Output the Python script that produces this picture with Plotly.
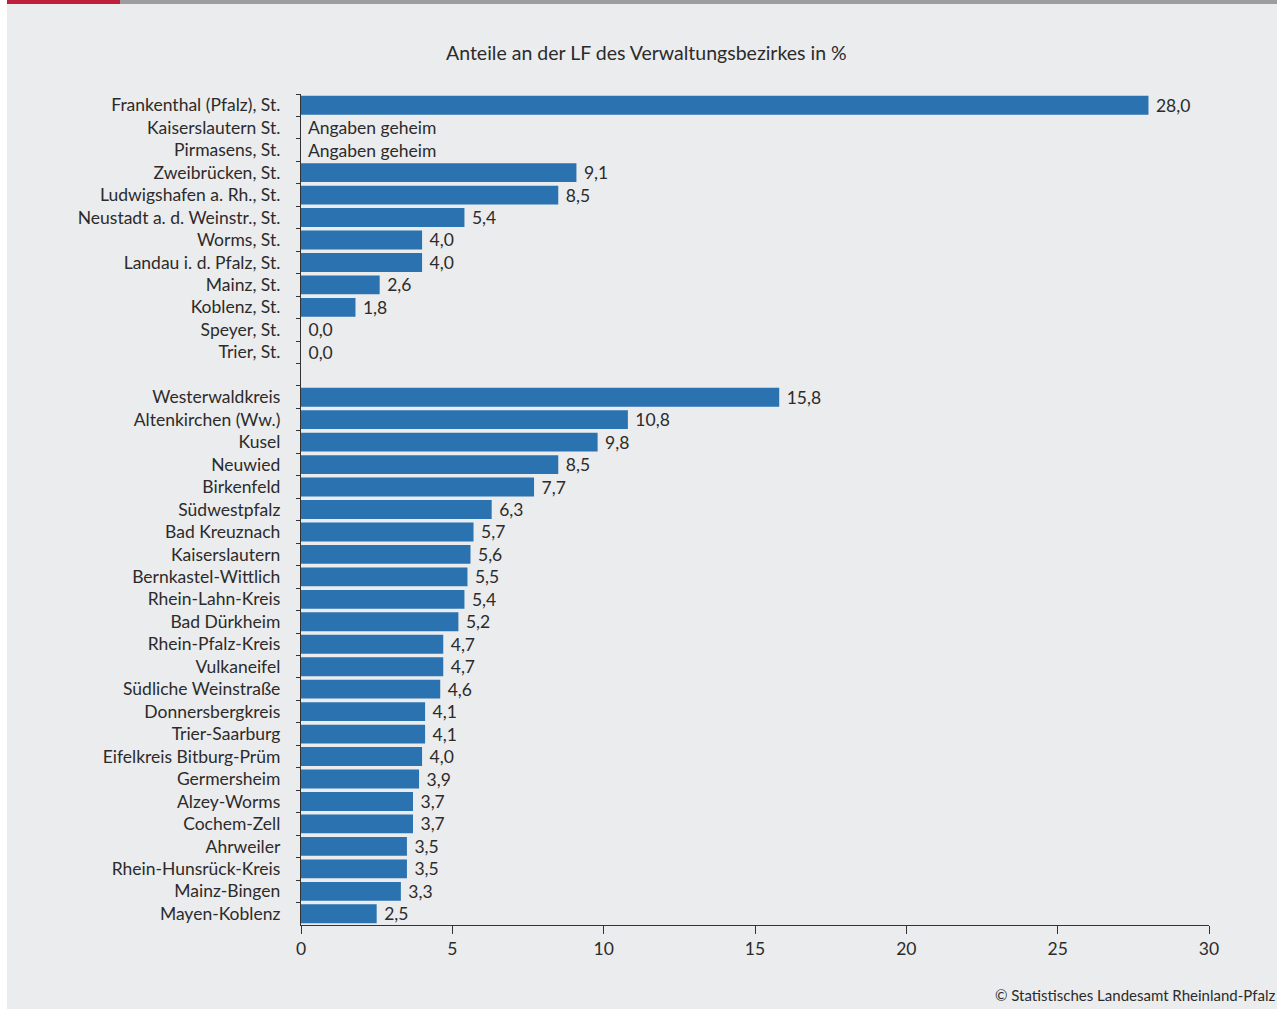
import plotly.graph_objects as go

# ---- data ----
staedte = ["Frankenthal (Pfalz), St.", "Kaiserslautern St.", "Pirmasens, St.", "Zweibrücken, St.",
           "Ludwigshafen a. Rh., St.", "Neustadt a. d. Weinstr., St.", "Worms, St.", "Landau i. d. Pfalz, St.",
           "Mainz, St.", "Koblenz, St.", "Speyer, St.", "Trier, St."]
staedte_werte = [28.0, None, None, 9.1, 8.5, 5.4, 4.0, 4.0, 2.6, 1.8, 0.0, 0.0]

kreise = ["Westerwaldkreis", "Altenkirchen (Ww.)", "Kusel", "Neuwied", "Birkenfeld", "Südwestpfalz",
          "Bad Kreuznach", "Kaiserslautern", "Bernkastel-Wittlich", "Rhein-Lahn-Kreis", "Bad Dürkheim",
          "Rhein-Pfalz-Kreis", "Vulkaneifel", "Südliche Weinstraße", "Donnersbergkreis", "Trier-Saarburg",
          "Eifelkreis Bitburg-Prüm", "Germersheim", "Alzey-Worms", "Cochem-Zell", "Ahrweiler",
          "Rhein-Hunsrück-Kreis", "Mainz-Bingen", "Mayen-Koblenz"]
kreise_werte = [15.8, 10.8, 9.8, 8.5, 7.7, 6.3, 5.7, 5.6, 5.5, 5.4, 5.2, 4.7, 4.7, 4.6, 4.1, 4.1,
                4.0, 3.9, 3.7, 3.7, 3.5, 3.5, 3.3, 2.5]

x_ticks = [0, 5, 10, 15, 20, 25, 30]
titel = "Anteile an der LF des Verwaltungsbezirkes in %"
quelle = "© Statistisches Landesamt Rheinland-Pfalz"
geheim_text = "Angaben geheim"

# ---- build ----
gap = " "
categories = staedte + [gap] + kreise
values = staedte_werte + [None] + kreise_werte

bar_y, bar_x, bar_text = [], [], []
for c, v in zip(categories, values):
    if c == gap:
        continue
    bar_y.append(c)
    if v is None:
        bar_x.append(0)
        bar_text.append("\u00a0" + geheim_text)
    else:
        bar_x.append(v)
        bar_text.append("\u00a0" + f"{v:.1f}".replace(".", ","))

W, H = 1277, 1009
L, R = 301, 1209
T, B = 94, 924.6
pw, ph = R - L, B - T

def px(x):
    return (x - L) / pw

def py(y):
    return (B - y) / ph

FONT = "Lato"
TXT = "#2b2b2b"
BG = "#ebeced"
FS = 17.5

fig = go.Figure()
fig.add_trace(go.Bar(
    x=bar_x, y=bar_y, orientation="h",
    marker=dict(color="#2a73b0", line=dict(width=0)),
    width=0.84,
    text=bar_text, textposition="outside", constraintext="none",
    textfont=dict(family=FONT, size=FS, color=TXT),
    cliponaxis=False, hoverinfo="skip",
))

fig.update_layout(
    width=W, height=H,
    margin=dict(l=L, r=W - R, t=T, b=H - B, pad=0),
    paper_bgcolor=BG, plot_bgcolor=BG,
    showlegend=False,
    font=dict(family=FONT, size=FS, color=TXT),
    xaxis=dict(range=[0, 30], tickvals=x_ticks, ticktext=[str(t) for t in x_ticks],
               showgrid=False, zeroline=False, showline=True, linecolor="#333", linewidth=1.3,
               ticks="outside", ticklen=8, tickcolor="#333", tickwidth=1.3,
               tickfont=dict(family=FONT, size=FS, color=TXT)),
    yaxis=dict(type="category", categoryorder="array", categoryarray=categories,
               range=[len(categories) - 0.5, -0.5],
               showgrid=False, zeroline=False, showline=True, linecolor="#333", linewidth=1.3,
               ticks="outside", ticklen=4, tickcolor="#333", tickwidth=1.3, tickson="boundaries",
               ticklabelstandoff=16,
               tickfont=dict(family=FONT, size=FS, color=TXT)),
    annotations=[
        dict(text=titel, xref="paper", yref="paper", x=px(646), y=py(53),
             xanchor="center", yanchor="middle", showarrow=False,
             font=dict(family=FONT, size=19.5, color=TXT)),
        dict(text=quelle, xref="paper", yref="paper", x=px(1276), y=py(995),
             xanchor="right", yanchor="middle", showarrow=False, borderpad=0,
             font=dict(family=FONT, size=15, color=TXT)),
    ],
    shapes=[
        dict(type="rect", xref="paper", yref="paper", x0=px(0), x1=px(7), y0=py(H), y1=py(0),
             fillcolor="white", line=dict(width=0), layer="above"),
        dict(type="rect", xref="paper", yref="paper", x0=px(7), x1=px(120), y0=py(4), y1=py(0),
             fillcolor="#be1e3c", line=dict(width=0), layer="above"),
        dict(type="rect", xref="paper", yref="paper", x0=px(120), x1=px(W), y0=py(4), y1=py(0),
             fillcolor="#9d9d9d", line=dict(width=0), layer="above"),
    ],
)

fig.write_html("out.html")
